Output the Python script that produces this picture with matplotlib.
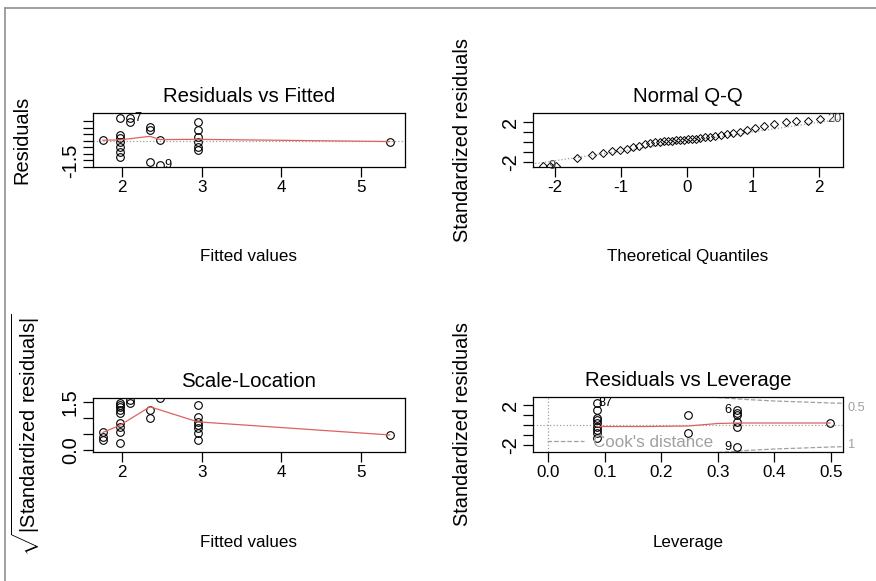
import matplotlib
matplotlib.use("Agg")
import matplotlib.pyplot as plt
from matplotlib import font_manager
from matplotlib.lines import Line2D

W, H = 876, 581

# Residuals vs Fitted
rf_fitted = [1.76, 1.98, 1.98, 1.98, 1.98, 1.98, 1.98, 1.98, 2.1, 2.1,
             2.35, 2.35, 2.35, 2.48, 2.48, 2.95, 2.95, 2.95, 2.95, 2.95, 2.95, 5.36]
rf_resid = [0.08, 1.76, 0.46, 0.23, -0.08, -0.46, -0.84, -1.22, 1.76, 1.45,
            1.07, 0.84, -1.6, 0.08, -1.83, 1.45, 0.84, 0.31, -0.08, -0.46, -0.69, -0.05]
rf_smooth_x = [1.76, 1.98, 2.35, 2.48, 2.95, 5.36]
rf_smooth_y = [0.05, 0.08, 0.35, 0.1, 0.12, -0.05]
rf_ids = [("7", 2.1, 1.76), ("9", 2.48, -1.83)]

# Normal Q-Q
qq_theo = [-2.18, -2.08, -1.98, -1.67, -1.44, -1.27, -1.14, -1.02, -0.91, -0.82,
           -0.73, -0.64, -0.56, -0.48, -0.41, -0.35, -0.29, -0.23, -0.17, -0.11,
           -0.05, 0.02, 0.08, 0.14, 0.20, 0.27, 0.35, 0.42, 0.52, 0.61,
           0.70, 0.80, 0.91, 1.03, 1.17, 1.32, 1.50, 1.65, 1.83, 2.02]
qq_std = [-2.4, -2.4, -2.4, -1.6, -1.3, -1.1, -0.9, -0.8, -0.7, -0.5,
          -0.4, -0.2, -0.1, 0.0, 0.0, 0.1, 0.1, 0.1, 0.2, 0.2,
          0.2, 0.3, 0.3, 0.3, 0.4, 0.5, 0.5, 0.6, 0.7, 0.8,
          0.9, 1.0, 1.2, 1.4, 1.6, 1.8, 2.0, 2.1, 2.1, 2.3]
qq_line_x = [-2.4, 2.4]
qq_line_y = [-2.25, 2.35]
qq_ids = [("9", -2.18, -2.4), ("20", 2.02, 2.3)]

# Scale-Location
sl_fitted = [1.76, 1.76, 1.76, 1.98, 1.98, 1.98, 1.98, 1.98, 1.98, 1.98, 1.98, 1.98,
             2.1, 2.1, 2.35, 2.35, 2.48, 2.95, 2.95, 2.95, 2.95, 2.95, 2.95, 2.95, 5.36]
sl_sqrt = [0.57, 0.42, 0.31, 1.47, 1.41, 1.34, 1.25, 1.16, 0.84, 0.72, 0.56, 0.22,
           1.56, 1.47, 1.25, 1.0, 1.62, 1.41, 1.03, 0.88, 0.78, 0.69, 0.53, 0.31, 0.47]
sl_smooth_x = [1.76, 1.98, 2.35, 2.48, 2.95, 5.36]
sl_smooth_y = [0.55, 0.78, 1.35, 1.25, 0.88, 0.47]

# Residuals vs Leverage
lv_lev = [0.086] * 9 + [0.247, 0.247] + [0.334] * 6 + [0.498]
lv_std = [2.2, 1.5, 0.7, 0.5, 0.2, -0.2, -0.5, -0.8, -1.3, 1.0, -0.8,
          1.5, 1.2, 1.0, 0.33, -0.17, -2.17, 0.17]
lv_smooth_x = [0.086, 0.17, 0.247, 0.3, 0.334, 0.498]
lv_smooth_y = [-0.15, -0.15, -0.1, 0.15, 0.2, 0.2]
cook_h = [0.30, 0.35, 0.40, 0.45, 0.50, 0.53]
cook_r = [2.75, 2.55, 2.4, 2.3, 2.2, 2.15]
lv_ids = [("87", 0.086, 2.2, "left"), ("6", 0.334, 1.5, "right"), ("9", 0.334, -2.17, "right")]


def has_font(name):
    try:
        font_manager.findfont(name, fallback_to_default=False)
        return True
    except ValueError:
        return False


# the picture is squeezed sideways, so horizontal text uses a narrow face
if has_font("Liberation Sans Narrow"):
    HFONT, HSCALE = "Liberation Sans Narrow", 1.0
else:
    HFONT, HSCALE = "Liberation Sans", 0.85
VFONT = "Liberation Sans"
BASE = 14.4  # 20 px in points

plt.rcParams["font.family"] = ["Liberation Sans", "DejaVu Sans"]
plt.rcParams["mathtext.fontset"] = "custom"
plt.rcParams["mathtext.rm"] = "Liberation Sans"
plt.rcParams["axes.linewidth"] = 0.9

RED = "#e06060"
GREY = "#a0a0a0"


def box(x0, y0, x1, y1):
    return [x0 / W, 1 - y1 / H, (x1 - x0) / W, (y1 - y0) / H]


def style(ax, title, xlabel, ylabel, xticks, xlabels, yticks, ylabels, xlab_y, ylab_x, ylab_y=0.5):
    ax.set_title(title, fontfamily=HFONT, fontsize=BASE * 1.2 * HSCALE, pad=8)
    ax.set_xticks(xticks)
    ax.set_xticklabels(xlabels, fontfamily=HFONT, fontsize=BASE * HSCALE)
    ax.set_yticks(yticks)
    ax.set_yticklabels(ylabels, fontfamily=VFONT, fontsize=BASE, rotation=90, va="center")
    ax.tick_params(length=7.5, width=0.9, pad=2)
    ax.set_xlabel(xlabel, fontfamily=HFONT, fontsize=BASE * HSCALE, va="center")
    ax.xaxis.set_label_coords(0.5, xlab_y)
    ax.set_ylabel(ylabel, fontfamily=VFONT, fontsize=BASE, va="center")
    ax.yaxis.set_label_coords(ylab_x, ylab_y)


fig = plt.figure(figsize=(W / 100, H / 100), dpi=100)

pt = dict(marker="o", ms=5.5, mfc="none", mec="black", mew=0.8, ls="none")

# panel 1
ax1 = fig.add_axes(box(93, 113, 405, 167))
ax1.axhline(0, color=GREY, ls=":", lw=0.9)
ax1.plot(rf_fitted, rf_resid, **pt)
ax1.plot(rf_smooth_x, rf_smooth_y, color=RED, lw=0.9)
for lab, x, y in rf_ids:
    ax1.annotate(lab, (x, y), xytext=(3, 0), textcoords="offset points", va="center",
                 fontfamily=HFONT, fontsize=BASE * 0.75 * HSCALE)
ax1.set_xlim(1.636, 5.552)
ax1.set_ylim(-1.985, 2.137)
style(ax1, "Residuals vs Fitted", "Fitted values", "Residuals",
      [2, 3, 4, 5], ["2", "3", "4", "5"],
      [-2, -1.5, -1, -0.5, 0, 0.5, 1, 1.5], ["", "-1.5", "", "", "", "", "", ""],
      -1.65, -0.228)

# panel 2
ax2 = fig.add_axes(box(533, 113, 843, 167))
ax2.plot(qq_line_x, qq_line_y, color=GREY, ls=":", lw=0.9)
ax2.plot(qq_theo, qq_std, marker="D", ms=4.5, mfc="none", mec="black", mew=0.7, ls="none")
for lab, x, y in qq_ids:
    ax2.annotate(lab, (x, y), xytext=(4 if x < 0 else 5, 0), textcoords="offset points",
                 va="center", ha="left", color="#404040",
                 fontfamily=HFONT, fontsize=BASE * 0.75 * HSCALE)
ax2.set_xlim(-2.333, 2.364)
ax2.set_ylim(-2.5, 2.9)
style(ax2, "Normal Q-Q", "Theoretical Quantiles", "Standardized residuals",
      [-2, -1, 0, 1, 2], ["-2", "-1", "0", "1", "2"],
      [-2, -1, 0, 1, 2], ["-2", "", "", "", "2"],
      -1.65, -0.229)

# panel 3
ax3 = fig.add_axes(box(93, 398, 405, 452))
ax3.plot(sl_fitted, sl_sqrt, **pt)
ax3.plot(sl_smooth_x, sl_smooth_y, color=RED, lw=0.9)
ax3.set_xlim(1.636, 5.552)
ax3.set_ylim(-0.0625, 1.625)
style(ax3, "Scale-Location", "Fitted values",
      r"$\sqrt{|\mathrm{Standardized\ residuals}|}$",
      [2, 3, 4, 5], ["2", "3", "4", "5"],
      [0, 0.5, 1.0, 1.5], ["0.0", "", "", "1.5"],
      -1.68, -0.215, 0.33)

# panel 4
ax4 = fig.add_axes(box(533, 397, 843, 452))
ax4.axhline(0, color=GREY, ls=":", lw=0.9)
ax4.axvline(0, color=GREY, ls=":", lw=0.9)
ax4.plot(cook_h, cook_r, color=GREY, ls="--", lw=0.9)
ax4.plot(cook_h, [-r for r in cook_r], color=GREY, ls="--", lw=0.9)
ax4.plot(lv_lev, lv_std, **pt)
ax4.plot(lv_smooth_x, lv_smooth_y, color=RED, lw=0.9)
for lab, x, y, side in lv_ids:
    ax4.annotate(lab, (x, y), xytext=(1 if side == "left" else -4, 0), textcoords="offset points",
                 va="center", ha=side, fontfamily=HFONT, fontsize=BASE * 0.75 * HSCALE)
ax4.set_xlim(-0.0265, 0.521)
ax4.set_ylim(-2.7, 2.8)
ax4.text(1.015, 1.7, "0.5", transform=ax4.get_yaxis_transform(), color=GREY,
         fontfamily=HFONT, fontsize=BASE * 0.75 * HSCALE, va="center")
ax4.text(1.015, -2.0, "1", transform=ax4.get_yaxis_transform(), color=GREY,
         fontfamily=HFONT, fontsize=BASE * 0.75 * HSCALE, va="center")
ax4.legend(handles=[Line2D([], [], color=GREY, ls="--", lw=0.9)], labels=["Cook's distance"],
           loc="lower left", bbox_to_anchor=(0.045, 0.03), frameon=False, labelcolor=GREY,
           handlelength=2.2, borderaxespad=0, handletextpad=0.5, borderpad=0,
           prop={"family": HFONT, "size": BASE * HSCALE})
style(ax4, "Residuals vs Leverage", "Leverage", "Standardized residuals",
      [0, 0.1, 0.2, 0.3, 0.4, 0.5], ["0.0", "0.1", "0.2", "0.3", "0.4", "0.5"],
      [-2, -1, 0, 1, 2], ["-2", "", "", "", "2"],
      -1.65, -0.229)

# screenshot border
for xs, ys in [([5, 5], [8, H]), ([5, W], [8, 8])]:
    fig.add_artist(Line2D([x / W for x in xs], [1 - y / H for y in ys], color="#909090", lw=1.2))

fig.savefig("out.png", dpi=100)
